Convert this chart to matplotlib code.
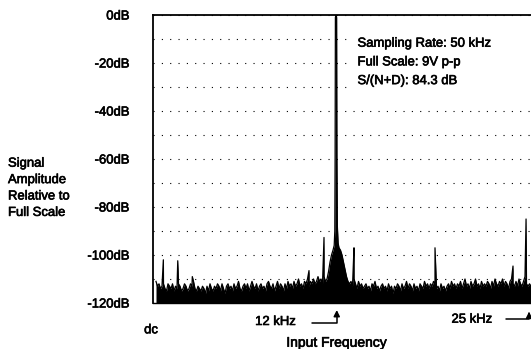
import matplotlib
matplotlib.use('Agg')
import matplotlib.pyplot as plt
import matplotlib.patheffects as pe
from matplotlib.patches import Rectangle
import numpy as np

plt.rcParams['font.family'] = ['Liberation Sans', 'DejaVu Sans']

# noise floor, one value every 0.1 kHz from dc to 25 kHz (dB re full scale)
floor_step = 0.1
floor_db = [
    -111, -113, -112, -114, -113, -112, -114, -115, -112, -113,
    -114, -112, -115, -113, -114, -112, -113, -115, -114, -112,
    -113, -115, -114, -112, -113, -111, -114, -115, -113, -114,
    -115, -113, -114, -116, -113, -115, -112, -114, -115, -113,
    -114, -112, -113, -115, -112, -114, -116, -113, -112, -114,
    -113, -115, -112, -114, -113, -111, -114, -115, -113, -112,
    -114, -112, -115, -113, -111, -113, -114, -112, -115, -113,
    -112, -114, -113, -115, -112, -111, -113, -114, -112, -115,
    -113, -111, -114, -112, -113, -115, -112, -114, -111, -113,
    -112, -114, -111, -113, -112, -110, -113, -112, -114, -111,
    -112, -110, -113, -111, -112, -110, -112, -111, -109, -111,
    -110, -112, -109, -111, -110, -108, -106, -103, -101, -99,
    -99, -100, -102, -103, -105, -107, -108, -110, -111, -112,
    -111, -113, -110, -112, -114, -111, -113, -112, -114, -113,
    -112, -114, -113, -115, -112, -113, -111, -114, -113, -115,
    -113, -112, -114, -113, -115, -112, -114, -113, -116, -113,
    -114, -112, -113, -115, -112, -114, -113, -111, -114, -112,
    -113, -115, -112, -114, -113, -115, -112, -113, -114, -111,
    -113, -112, -114, -112, -113, -111, -112, -114, -113, -115,
    -112, -114, -113, -115, -113, -112, -114, -111, -113, -112,
    -114, -112, -113, -111, -114, -112, -110, -113, -112, -114,
    -111, -113, -112, -110, -113, -112, -114, -111, -113, -112,
    -113, -111, -112, -114, -111, -113, -110, -112, -113, -111,
    -112, -110, -113, -111, -112, -114, -111, -110, -112, -113,
    -111, -113, -110, -112, -113, -111, -109, -112, -113, -112,
    -113,
]

# 12 kHz test tone and its skirt
tone_freq = [11.4, 11.5, 11.6, 11.7, 11.8, 11.88, 11.92, 11.94, 11.96, 12.0, 12.04,
             12.06, 12.09, 12.14, 12.2, 12.3, 12.4, 12.5, 12.6, 12.7, 12.8]
tone_db = [-110, -107, -103, -100, -98, -96, -90, -60, -1, 0, -1,
           -60, -88, -95, -97, -98, -100, -103, -106, -109, -111]

# spurs (harmonics / interference)
spur_freq = [0.49, 1.45, 2.42, 10.2, 11.2, 13.2, 18.6, 23.8, 24.67]
spur_db = [-102, -102.4, -109, -106.5, -92.7, -97, -97, -104.6, -85]

annot_lines = ['Sampling Rate: 50 kHz', 'Full Scale: 9V p-p', 'S/(N+D): 84.3 dB']
ylabel_lines = ['Signal', 'Amplitude', 'Relative to', 'Full Scale']
ytick_vals = [0, -20, -40, -60, -80, -100, -120]
ytick_labels = ['0dB', '-20dB', '-40dB', '-60dB', '-80dB', '-100dB', '-120dB']

# build the spectrum trace
floor_freq = np.arange(len(floor_db)) * floor_step
floor_db = np.array(floor_db, dtype=float)
keep = (floor_freq < tone_freq[0] - 0.01) | (floor_freq > tone_freq[-1] + 0.01)
freq = np.concatenate([floor_freq[keep], tone_freq, spur_freq])
level = np.concatenate([floor_db[keep], tone_db, spur_db])
order = np.argsort(freq)
freq, level = freq[order], level[order]

W, H = 531, 349
ink = [pe.withStroke(linewidth=0.45, foreground='black')]

fig = plt.figure(figsize=(W / 100, H / 100), dpi=100)
ax = fig.add_axes([153 / W, (H - 303) / H, (545 - 153) / W, 288 / H])

ax.fill_between(freq, level, -125, color='black', lw=0, zorder=3)
ax.plot(freq, level, color='black', lw=0.9, zorder=3)

ax.set_xlim(-0.2, (545 - 156) / 15)
ax.set_ylim(-120, 0)

ax.set_yticks(ytick_vals)
ax.set_yticklabels(ytick_labels, fontsize=9.4)
for t in ax.get_yticklabels():
    t.set_path_effects(ink)
ax.set_yticks(np.arange(-110, 0, 20), minor=True)
ax.tick_params(axis='y', which='both', length=0, pad=17)
ax.set_xticks([])
ax.grid(axis='y', which='both', color='black', lw=0.8, linestyle=(0, (1, 6.5)), zorder=1)

ax.spines['right'].set_visible(False)
ax.spines['top'].set_linewidth(1.3)
ax.spines['left'].set_linewidth(1.3)
ax.spines['bottom'].set_linewidth(1.0)

# white panel behind the settings text
ax.add_patch(Rectangle((12.8, -32), 14, 26.6, facecolor='white', edgecolor='none', zorder=2))

for i, line in enumerate(annot_lines):
    fig.text(357.5 / W, 1 - (46.7 + 18.7 * i) / H, line, fontsize=9.4, va='baseline',
             ha='left', path_effects=ink, zorder=5)

for i, line in enumerate(ylabel_lines):
    fig.text(8 / W, 1 - (166.7 + 16.4 * i) / H, line, fontsize=9.4, va='baseline',
             ha='left', path_effects=ink)

fig.text(151 / W, 1 - 333.3 / H, 'dc', fontsize=9.4, va='baseline', ha='center', path_effects=ink)
fig.text(275.4 / W, 1 - 325 / H, '12 kHz', fontsize=9.4, va='baseline', ha='center', path_effects=ink)
fig.text(471.7 / W, 1 - 322.7 / H, '25 kHz', fontsize=9.4, va='baseline', ha='center', path_effects=ink)
fig.text(336.7 / W, 1 - 346.7 / H, 'Input Frequency', fontsize=10, va='baseline', ha='center',
         path_effects=ink)

# bent arrows pointing at 12 kHz and 25 kHz
for f_tip, f_start, y_line, y_tip in [(12.05, 10.38, 323.3, 310), (24.87, 23.33, 319.3, 311.7)]:
    ax.annotate('', xy=(f_tip, H - y_tip), xycoords=('data', 'figure pixels'),
                xytext=(f_start, H - y_line), textcoords=('data', 'figure pixels'),
                arrowprops=dict(arrowstyle='-|>', connectionstyle='angle,angleA=0,angleB=90,rad=0',
                                lw=1.1, color='black', shrinkA=0, shrinkB=0, mutation_scale=9),
                annotation_clip=False)

fig.savefig('out.png', dpi=100)
